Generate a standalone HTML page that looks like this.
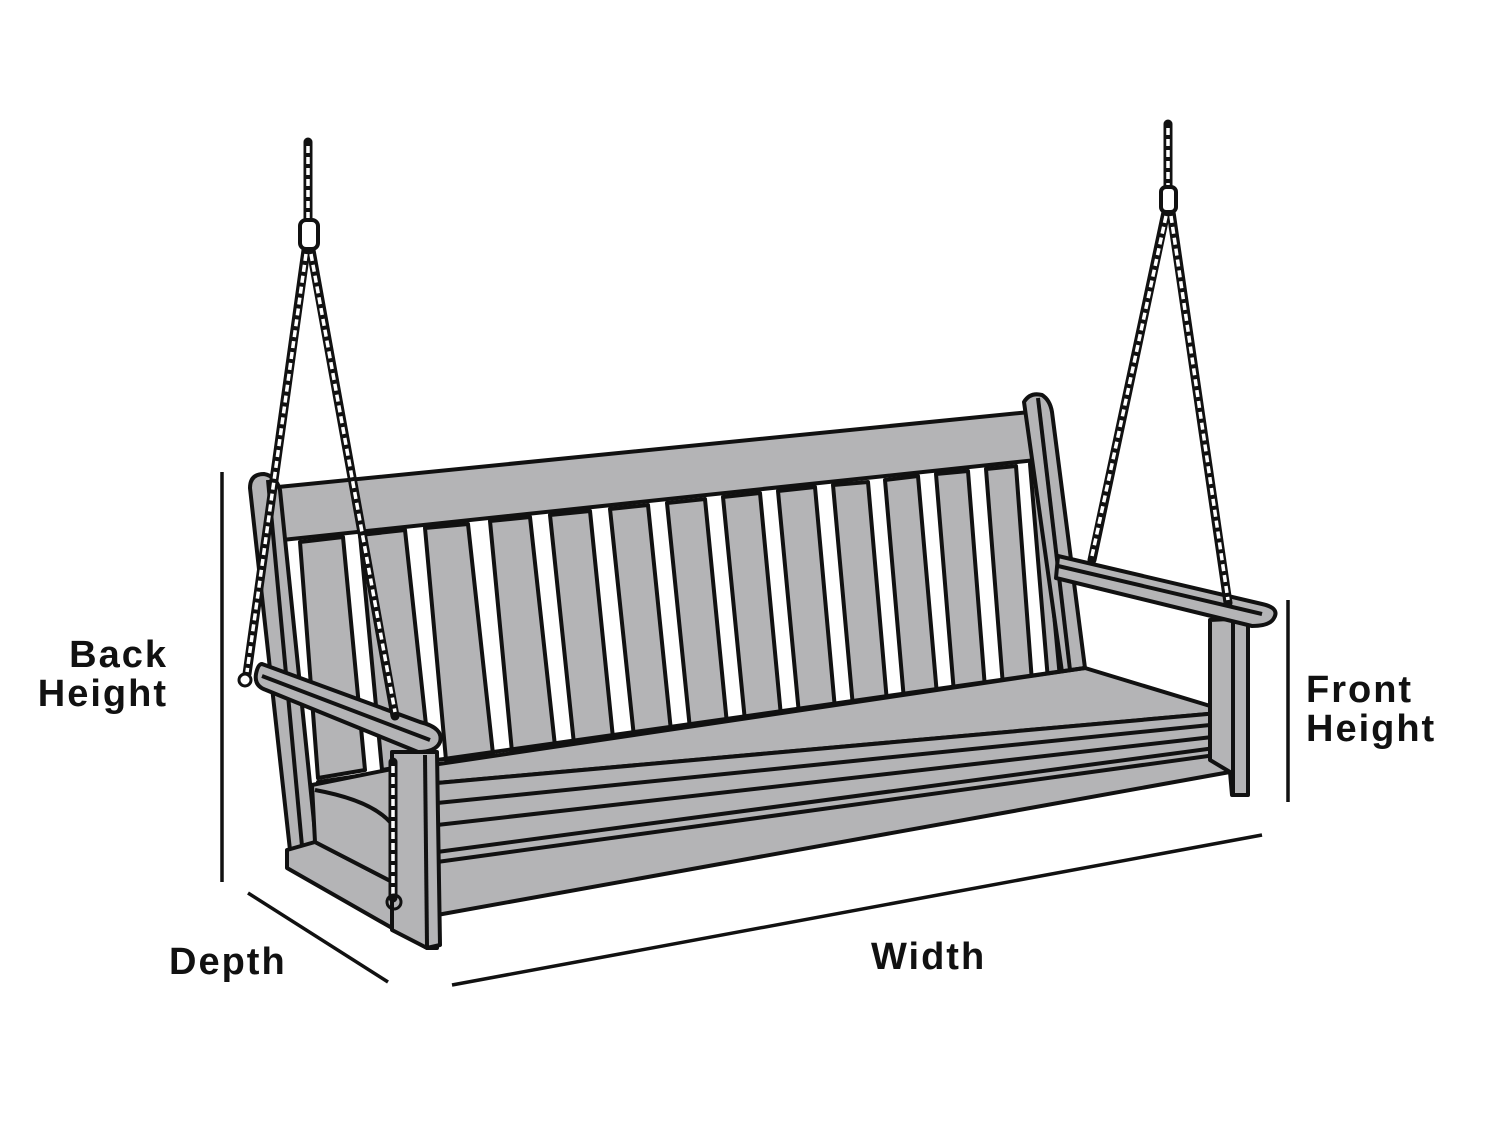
<!DOCTYPE html>
<html><head><meta charset="utf-8"><style>
html,body{margin:0;padding:0;background:#fff}
svg{display:block}
text{font-family:"Liberation Sans",sans-serif;font-weight:bold;font-size:38px;fill:#111;letter-spacing:2px}
</style></head><body>
<svg width="1500" height="1125" viewBox="0 0 1500 1125">
<g stroke="#111" stroke-width="4" stroke-linejoin="round" fill="#b4b4b6">
<polygon points="280,538 1032,458 1078,668 300,782" fill="#fff" stroke="none"/>
<g>
<polygon points="300,542 343,537 365,770 318,778"/>
<polygon points="360,535 405,530 430,762 382,770"/>
<polygon points="425,528 468,524 493,754 446,760"/>
<polygon points="490,521 530,517 555,746 512,752"/>
<polygon points="550,515 590,511 613,738 574,744"/>
<polygon points="610,509 648,505 671,731 634,737"/>
<polygon points="667,503 705,499 727,724 690,729"/>
<polygon points="723,497 760,493 781,716 745,721"/>
<polygon points="778,491 815,487 835,709 799,714"/>
<polygon points="833,485 868,482 887,702 853,707"/>
<polygon points="885,480 918,476 937,695 904,700"/>
<polygon points="936,474 968,471 985,688 954,693"/>
<polygon points="986,469 1016,466 1032,682 1003,686"/>
<polygon points="1030,464 1040,463 1060,678 1048,680"/>
</g>
<polygon points="278,487 1030,412 1036,460 282,540"/>
<path d="M250,488 Q250,474 264,474 Q276,476 280,490 L316,842 L290,850 Z"/>
<line x1="268" y1="480" x2="302" y2="846"/>
<path d="M1024,402 Q1030,392 1042,395 Q1050,400 1052,412 L1085,668 L1062,672 Z"/>
<line x1="1038" y1="398" x2="1070" y2="670"/>
<!-- seat top surface -->
<polygon points="318,782 1085,668 1230,712 437,783"/>
<line x1="437" y1="760" x2="1085" y2="668"/>
<line x1="900" y1="692" x2="1120" y2="683" stroke="none"/>
<!-- seat front face -->
<polygon points="437,783 1230,712 1230,772 437,915"/>
<line x1="437" y1="803" x2="1230" y2="723"/>
<line x1="437" y1="825" x2="1230" y2="735"/>
<line x1="437" y1="852" x2="1230" y2="746"/>
<line x1="437" y1="862" x2="1230" y2="753"/>
<!-- left side skirt -->
<polygon points="287,850 315,842 437,905 437,948 427,948 287,868"/>
<polygon points="312,785 437,760 437,905 315,842"/>
<path d="M315,790 Q370,800 390,822" fill="none"/>
<!-- right front leg -->
<polygon points="1210,620 1248,618 1248,795 1232,795 1230,772 1210,760"/>
<line x1="1233" y1="622" x2="1233" y2="795"/>
<!-- left front leg -->
<polygon points="392,752 437,752 440,945 427,948 392,930"/>
<line x1="425" y1="755" x2="427" y2="946"/>
<!-- left arm -->
<path d="M262,664 L420,722 Q444,728 440,742 Q436,752 418,752 L266,690 Q254,686 256,674 Q258,664 262,664 Z"/>
<line x1="262" y1="676" x2="430" y2="740"/>
<!-- right arm -->
<path d="M1058,556 L1262,604 Q1280,608 1274,618 Q1270,626 1252,626 L1056,578 Z"/>
<line x1="1058" y1="566" x2="1262" y2="614"/>
</g>
<g fill="none" stroke-linecap="round">
<g stroke="#111" stroke-width="9">
<line x1="308" y1="142" x2="308" y2="222"/>
<line x1="306" y1="250" x2="247" y2="674"/>
<line x1="311" y1="250" x2="395" y2="716"/>
<line x1="393" y1="762" x2="393" y2="898"/>
<line x1="1168" y1="124" x2="1168" y2="188"/>
<line x1="1166" y1="212" x2="1092" y2="560"/>
<line x1="1171" y1="212" x2="1228" y2="603"/>
</g>
<g stroke="#fff" stroke-width="3.5" stroke-dasharray="7 4" stroke-linecap="butt">
<line x1="308" y1="146" x2="308" y2="220"/>
<line x1="306" y1="254" x2="247" y2="672"/>
<line x1="311" y1="254" x2="395" y2="712"/>
<line x1="393" y1="766" x2="393" y2="895"/>
<line x1="1168" y1="128" x2="1168" y2="186"/>
<line x1="1166" y1="216" x2="1092" y2="556"/>
<line x1="1171" y1="216" x2="1228" y2="600"/>
</g>
<rect x="300" y="220" width="18" height="29" rx="6" stroke="#111" stroke-width="4" fill="#fff"/>
<rect x="1161" y="187" width="15" height="25" rx="5" stroke="#111" stroke-width="4" fill="#fff"/>
<circle cx="245" cy="680" r="6" stroke="#111" stroke-width="3" fill="#fff"/>
<circle cx="394" cy="902" r="7" stroke="#111" stroke-width="3"/>
</g>
<g stroke="#111" stroke-width="3.5">
<line x1="222" y1="472" x2="222" y2="882"/>
<line x1="1288" y1="600" x2="1288" y2="802"/>
<line x1="248" y1="893" x2="388" y2="982"/>
<line x1="452" y1="985" x2="1262" y2="835"/>
</g>
<text x="168" y="667" text-anchor="end">Back</text>
<text x="168" y="706" text-anchor="end">Height</text>
<text x="1306" y="702">Front</text>
<text x="1306" y="741">Height</text>
<text x="169" y="974">Depth</text>
<text x="871" y="969">Width</text>
</svg>
</body></html>
